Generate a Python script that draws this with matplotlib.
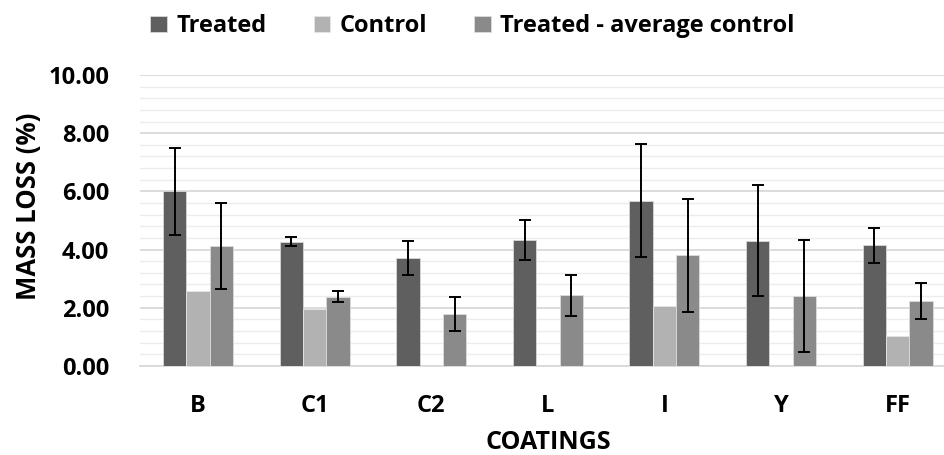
import numpy as np
import matplotlib.pyplot as plt
from matplotlib.ticker import MultipleLocator, FormatStrFormatter

coatings = ["B", "C1", "C2", "L", "I", "Y", "FF"]
treated = [6.00, 4.27, 3.70, 4.32, 5.68, 4.31, 4.14]
treated_err = [1.50, 0.16, 0.59, 0.69, 1.94, 1.90, 0.60]
control = [2.58, 1.96, 0.0, 0.0, 2.06, 0.0, 1.03]
diff = [4.12, 2.38, 1.79, 2.42, 3.80, 2.41, 2.24]
diff_err = [1.48, 0.18, 0.58, 0.71, 1.94, 1.93, 0.62]

plt.rcParams["font.family"] = ["Open Sans", "DejaVu Sans"]
plt.rcParams["font.weight"] = "bold"

fig = plt.figure(figsize=(9.45, 4.55), dpi=100)
ax = fig.add_axes([0.148, 0.196, 0.8635, 0.639])

x = np.arange(len(coatings))
w = 0.2
err_kw = dict(ecolor="black", elinewidth=1.4, capsize=4, capthick=1.4)
ax.bar(x - w, treated, w, yerr=treated_err, color="#5f5f5f", edgecolor="#d8d8d8",
       linewidth=0.6, label="Treated", error_kw=err_kw, zorder=3)
ax.bar(x, control, w, color="#b2b2b2", edgecolor="#e6e6e6",
       linewidth=0.6, label="Control", zorder=3)
ax.bar(x + w, diff, w, yerr=diff_err, color="#8a8a8a", edgecolor="#dcdcdc",
       linewidth=0.6, label="Treated - average control", error_kw=err_kw, zorder=3)

ax.set_xlim(-0.5, 6.5)
ax.set_ylim(0, 10)
ax.yaxis.set_major_locator(MultipleLocator(2))
ax.yaxis.set_minor_locator(MultipleLocator(0.4))
ax.yaxis.set_major_formatter(FormatStrFormatter("%.2f"))
ax.grid(axis="y", which="major", color="#d9d9d9", linewidth=1.3, zorder=0)
ax.grid(axis="y", which="minor", color="#ececec", linewidth=1.0, zorder=0)
ax.set_xticks(x)
ax.set_xticklabels(coatings)
ax.tick_params(axis="both", which="both", length=0, labelsize=17)
ax.tick_params(axis="x", pad=20)
ax.tick_params(axis="y", pad=22)
for s in ["top", "right", "left"]:
    ax.spines[s].set_visible(False)
ax.spines["bottom"].set_color("#d9d9d9")
ax.spines["bottom"].set_linewidth(1.3)

ax.set_ylabel("MASS LOSS (%)", fontsize=18.5, fontweight="bold", va="center")
ax.yaxis.set_label_coords(-0.137, 0.55)
ax.set_xlabel("COATINGS", fontsize=18, fontweight="bold", va="center")
ax.xaxis.set_label_coords(0.5, -0.263)

fig.legend(loc="upper center", bbox_to_anchor=(0.5, 1.015), ncol=3, frameon=False,
           fontsize=17, handlelength=0.7, handleheight=0.7, columnspacing=2.0,
           handletextpad=0.4)

fig.savefig("out.png", dpi=100)
